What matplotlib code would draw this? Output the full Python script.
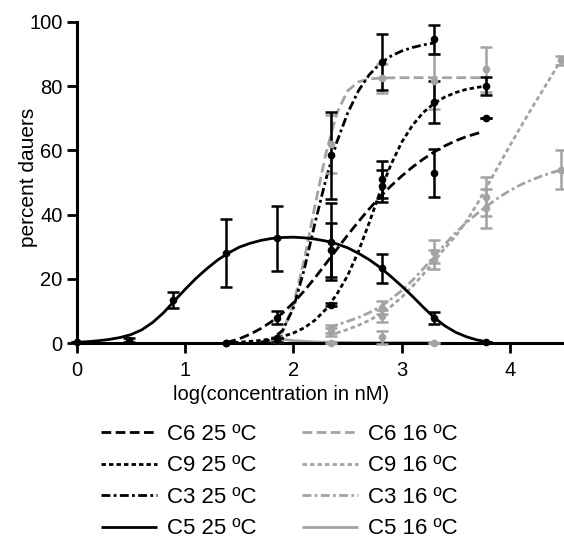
import numpy as np
import matplotlib
matplotlib.use('Agg')
import matplotlib.pyplot as plt

plt.rcParams['font.family'] = ['Liberation Sans', 'DejaVu Sans']

BLACK = '#000000'
GRAY = '#a3a3a3'

# measured points (log concentration, percent dauers, error)
c5_25_x = [0.0, 0.48, 0.89, 1.38, 1.85, 2.35, 2.82, 3.3, 3.78]
c5_25_y = [0.5, 1.0, 13.5, 28.0, 32.6, 31.6, 23.3, 7.8, 0.5]
c5_25_e = [0.0, 0.5, 2.5, 10.5, 10.0, 12.0, 4.5, 1.8, 0.0]

c6_25_x = [1.38, 1.85, 2.35, 2.82, 3.3, 3.78]
c6_25_y = [0.0, 8.0, 29.0, 51.0, 53.0, 70.2]
c6_25_e = [0.0, 2.0, 8.5, 5.8, 7.4, 0.0]

c9_25_x = [1.38, 1.85, 2.35, 2.82, 3.3, 3.78]
c9_25_y = [0.0, 1.5, 12.0, 49.0, 75.1, 80.0]
c9_25_e = [0.0, 0.0, 0.5, 5.0, 6.6, 2.8]

c3_25_x = [1.85, 2.35, 2.82, 3.3]
c3_25_y = [1.0, 58.5, 87.5, 94.5]
c3_25_e = [0.5, 13.5, 8.8, 4.5]

c6_16_x = [1.85, 2.35, 2.82, 3.3, 3.78]
c6_16_y = [1.0, 62.0, 82.4, 81.5, 85.2]
c6_16_e = [0.5, 9.0, 4.5, 8.5, 7.0]

c9_16_x = [2.35, 2.82, 3.3, 3.78, 4.47]
c9_16_y = [3.5, 8.5, 26.0, 45.6, 88.0]
c9_16_e = [1.3, 2.0, 3.0, 6.0, 1.5]

c3_16_x = [2.35, 2.82, 3.3, 3.78, 4.47]
c3_16_y = [4.5, 11.0, 28.5, 42.0, 54.0]
c3_16_e = [1.3, 2.0, 3.5, 6.0, 6.0]

c5_16_x = [1.85, 2.35, 2.82, 3.3]
c5_16_y = [1.5, 0.2, 1.8, 0.2]
c5_16_e = [0.5, 0.0, 2.0, 0.0]

# fitted curves
c5_25_fx = [0.0, 0.1, 0.2, 0.3, 0.4, 0.5, 0.6, 0.7, 0.8, 0.9, 1.0, 1.1, 1.2, 1.3, 1.4,
            1.5, 1.6, 1.7, 1.8, 1.9, 2.0, 2.1, 2.2, 2.3, 2.4, 2.5, 2.6, 2.7, 2.8, 2.9,
            3.0, 3.1, 3.2, 3.3, 3.4, 3.5, 3.6, 3.7, 3.78]
c5_25_fy = [0.3, 0.5, 0.8, 1.2, 1.8, 2.7, 4.2, 6.5, 9.5, 13.2, 16.8, 20.2, 23.2, 25.9, 28.1,
            29.9, 31.1, 32.0, 32.6, 32.9, 33.0, 32.8, 32.4, 31.8, 30.9, 29.7, 28.0, 26.0, 23.6, 20.8,
            17.8, 14.6, 11.2, 8.0, 5.4, 3.4, 2.0, 1.0, 0.5]

c6_25_fx = [1.38, 1.5, 1.6, 1.7, 1.8, 1.9, 2.0, 2.1, 2.2, 2.3, 2.4, 2.5, 2.6, 2.7, 2.8,
            2.9, 3.0, 3.1, 3.2, 3.3, 3.4, 3.5, 3.6, 3.72]
c6_25_fy = [0.2, 1.4, 2.8, 4.6, 6.8, 9.4, 12.6, 16.3, 20.4, 24.8, 29.2, 33.6, 37.8, 41.8, 45.5,
            48.9, 52.0, 54.8, 57.3, 59.5, 61.4, 63.0, 64.3, 65.5]

c9_25_fx = [1.38, 1.5, 1.6, 1.7, 1.8, 1.9, 2.0, 2.1, 2.2, 2.3, 2.4, 2.5, 2.6, 2.7, 2.8,
            2.9, 3.0, 3.1, 3.2, 3.3, 3.4, 3.5, 3.6, 3.7, 3.78]
c9_25_fy = [0.2, 0.3, 0.6, 0.9, 1.4, 2.1, 3.2, 4.8, 7.2, 10.6, 15.2, 21.0, 28.5, 37.5, 47.0,
            55.5, 62.5, 67.8, 71.8, 74.6, 76.6, 78.0, 79.0, 79.6, 80.0]

c3_25_fx = [1.7, 1.8, 1.9, 2.0, 2.1, 2.2, 2.3, 2.4, 2.5, 2.6, 2.7, 2.8, 2.9, 3.0, 3.1,
            3.2, 3.3]
c3_25_fy = [0.3, 1.2, 4.0, 11.0, 23.0, 37.5, 51.0, 62.5, 71.5, 78.5, 83.5, 87.0, 89.3, 90.9, 92.0,
            92.8, 93.4]

c6_16_fx = [1.75, 1.8, 1.9, 2.0, 2.1, 2.2, 2.3, 2.4, 2.5, 2.6, 2.7, 2.8, 3.0, 3.78]
c6_16_fy = [0.3, 0.8, 3.5, 12.0, 26.0, 43.0, 59.0, 71.5, 78.5, 81.3, 82.2, 82.5, 82.6, 82.6]

c9_16_fx = [2.33, 2.4, 2.5, 2.6, 2.7, 2.8, 2.9, 3.0, 3.1, 3.2, 3.3, 3.4, 3.5, 3.6, 3.7,
            3.8, 3.9, 4.0, 4.1, 4.2, 4.3, 4.4, 4.47]
c9_16_fy = [2.6, 3.2, 4.3, 5.6, 7.1, 9.0, 11.4, 14.3, 17.7, 21.5, 25.5, 29.6, 33.4, 38.0, 43.5,
            49.5, 55.5, 61.5, 67.3, 73.0, 78.5, 84.0, 88.0]

c3_16_fx = [2.33, 2.4, 2.5, 2.6, 2.7, 2.8, 2.9, 3.0, 3.1, 3.2, 3.3, 3.4, 3.5, 3.6, 3.7,
            3.8, 3.9, 4.0, 4.1, 4.2, 4.3, 4.4, 4.47]
c3_16_fy = [5.0, 5.7, 6.8, 8.0, 9.5, 11.3, 13.7, 16.4, 19.6, 23.2, 27.0, 30.8, 34.4, 37.6, 40.4,
            43.0, 45.4, 47.5, 49.3, 50.8, 52.1, 53.2, 53.9]

c5_16_fx = [1.85, 2.0, 2.2, 2.35, 2.6, 2.82, 3.3]
c5_16_fy = [1.5, 0.8, 0.4, 0.3, 0.2, 0.2, 0.2]

LW = 2.0
LONG = (3.5, 1.6)
SHORT = (1.6, 1.1)
DASHDOT = (3.2, 1.2, 1.0, 1.2)

series = [
    ('C6 25 ºC', c6_25_x, c6_25_y, c6_25_e, c6_25_fx, c6_25_fy, BLACK, LONG),
    ('C9 25 ºC', c9_25_x, c9_25_y, c9_25_e, c9_25_fx, c9_25_fy, BLACK, SHORT),
    ('C3 25 ºC', c3_25_x, c3_25_y, c3_25_e, c3_25_fx, c3_25_fy, BLACK, DASHDOT),
    ('C5 25 ºC', c5_25_x, c5_25_y, c5_25_e, c5_25_fx, c5_25_fy, BLACK, None),
    ('C6 16 ºC', c6_16_x, c6_16_y, c6_16_e, c6_16_fx, c6_16_fy, GRAY, LONG),
    ('C9 16 ºC', c9_16_x, c9_16_y, c9_16_e, c9_16_fx, c9_16_fy, GRAY, SHORT),
    ('C3 16 ºC', c3_16_x, c3_16_y, c3_16_e, c3_16_fx, c3_16_fy, GRAY, DASHDOT),
    ('C5 16 ºC', c5_16_x, c5_16_y, c5_16_e, c5_16_fx, c5_16_fy, GRAY, None),
]

fig = plt.figure(figsize=(5.64, 5.44), dpi=100)
ax = fig.add_axes([0.1365, 0.369, 0.8635, 0.591])

handles = []
# gray first so black sits on top
for label, x, y, e, fx, fy, color, dash in series[4:] + series[:4]:
    ax.errorbar(x, y, yerr=e, fmt='o', color=color, ms=4.5, elinewidth=1.8,
                capsize=4, capthick=1.8, clip_on=False, zorder=3)
    if dash is None:
        line, = ax.plot(fx, fy, color=color, lw=LW, solid_capstyle='butt',
                        clip_on=False, zorder=2, label=label)
    else:
        line, = ax.plot(fx, fy, color=color, lw=LW, dashes=dash,
                        clip_on=False, zorder=2, label=label)
    handles.append(line)

ax.set_xlim(0, 4.5)
ax.set_ylim(0, 100)
ax.set_xticks([0, 1, 2, 3, 4])
ax.set_yticks([0, 20, 40, 60, 80, 100])
for side in ['top', 'right']:
    ax.spines[side].set_visible(False)
for side in ['left', 'bottom']:
    ax.spines[side].set_linewidth(2.2)
ax.tick_params(axis='x', width=2.0, length=7, labelsize=14.5, pad=6)
ax.tick_params(axis='y', width=2.0, length=7, labelsize=14.5, pad=3.5)
ax.set_xlabel('log(concentration in nM)', fontsize=14.5)
ax.set_ylabel('percent dauers', fontsize=15)
ax.xaxis.set_label_coords(0.42, -0.13)
ax.yaxis.set_label_coords(-0.08, 0.517)

order = ['C6 25 ºC', 'C9 25 ºC', 'C3 25 ºC', 'C5 25 ºC',
         'C6 16 ºC', 'C9 16 ºC', 'C3 16 ºC', 'C5 16 ºC']
by_label = {h.get_label(): h for h in handles}
fig.legend([by_label[k] for k in order], order, loc='upper left',
           bbox_to_anchor=(0.179, 0.2206), ncol=2, frameon=False, fontsize=16,
           handlelength=2.52, handletextpad=0.45, columnspacing=2.05,
           labelspacing=0.47, borderaxespad=0, borderpad=0)

fig.savefig('out.png', dpi=100)
